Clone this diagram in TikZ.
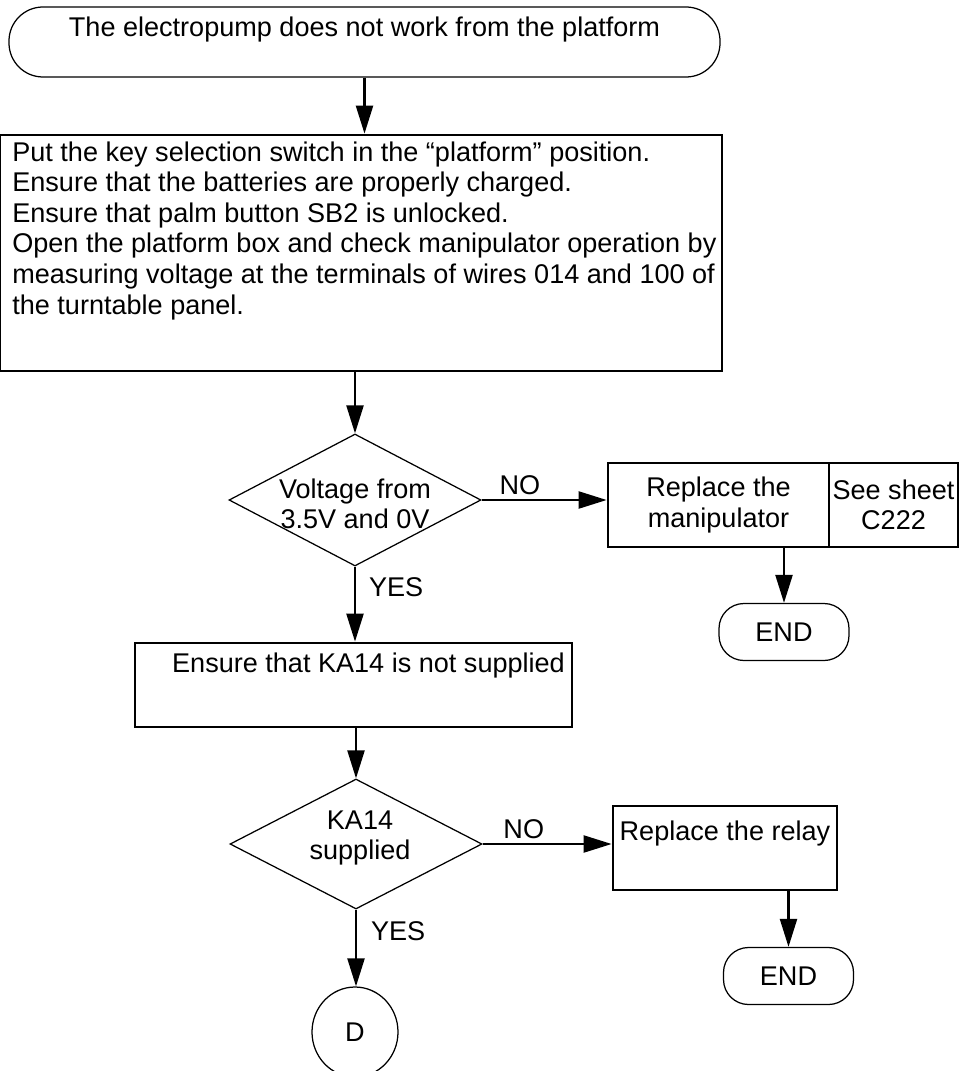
\documentclass[tikz,border=0pt]{standalone}
\usepackage{fontspec}
\setmainfont{Liberation Sans}
\usetikzlibrary{shapes.geometric, arrows.meta, positioning}

\begin{document}
\begin{tikzpicture}[
  x=0.2mm, y=-0.2mm,
  % --- Box styles ---
  basebox/.style={
    align=center, inner sep=0pt,
    font=\fontsize{15.4}{17.4}\selectfont
  },
  termbox/.style={basebox, rectangle, draw, line width=0.25mm,
    rounded corners=6.8mm},
  endbox/.style={termbox, rounded corners=5mm,
    minimum width=26mm, minimum height=11.4mm},
  procbox/.style={basebox, rectangle, draw, line width=0.55mm},
  decbox/.style={basebox, diamond, draw, line width=0.25mm,
    minimum width=50.4mm},
  linkbox/.style={basebox, ellipse, draw, line width=0.25mm,
    minimum width=17.2mm, minimum height=18mm},
  % --- Arrows ---
  flow/.style={-{Triangle[length=5.6mm, width=3.4mm]}, line width=0.45mm},
  % --- Texts ---
  btxt/.style={basebox, align=left},
  lbl/.style={basebox, anchor=base west},
]
\useasboundingbox (0,0) rectangle (959,1071);

% ===================== START =====================
\node[termbox, minimum width=142.2mm, minimum height=14mm] (start) at (364.5,42) {};
\node[basebox, anchor=base] (starttxt) at (364.5,37)
  {The electropump does not work from the platform};

\node[procbox, minimum width=144.4mm, minimum height=47.2mm] (check) at (361,253) {};
% base of a multi-line node = baseline of its last line
\node[btxt, anchor=base west] (checktxt) at (12,314)
  {Put the key selection switch in the ``platform'' position.\\
   Ensure that the batteries are properly charged.\\
   Ensure that palm button SB2 is unlocked.\\
   Open the platform box and check manipulator operation by\\
   measuring voltage at the terminals of wires 014 and 100 of\\
   the turntable panel.};

% ===================== VOLTAGE =====================
\node[decbox, minimum height=26.4mm] (dec1) at (355,500) {};
\node[basebox] (dec1txt) at (355,504) {Voltage from\\3.5V and 0V};

\node[procbox, minimum width=44.2mm, minimum height=16.8mm] (repl1) at (718.5,505)
  {Replace the\\manipulator};
\node[procbox, minimum width=25.8mm, minimum height=16.8mm, right=-0.55mm of repl1] (sheet)
  {See sheet\\C222};

\node[endbox] (end1) at (784,632) {END};

% ===================== KA14 =====================
\node[procbox, minimum width=87.4mm, minimum height=16.8mm] (ensure) at (353.5,685) {};
\node[basebox, anchor=base] (ensuretxt) at (368.5,672)
  {Ensure that KA14 is not supplied};

\node[decbox, minimum height=26mm] (dec2) at (356,844) {};
\node[basebox] (dec2txt) at (360,838) {KA14\\supplied};

\node[procbox, minimum width=44.8mm, minimum height=16.8mm] (relay) at (725,848) {};
\node[basebox, anchor=base] (relaytxt) at (725,840) {Replace the relay};

\node[endbox] (end2) at (788.5,976) {END};

\node[linkbox] (dlink) at (355,1032) {D};

% ================ ARROWS ================
\draw[flow] (start.south) -- (start.south |- check.north);
\draw[flow] (dec1.north |- check.south) -- (dec1.north);

\draw[flow] (dec1.east) --
  node[lbl, pos=0.134, yshift=1.2mm] (no1) {NO}
  (dec1.east -| repl1.west);
\draw[flow] (dec1.south) --
  node[lbl, pos=0.40, xshift=2.6mm] (yes1) {YES}
  (dec1.south |- ensure.north);
\draw[flow] (end1.north |- repl1.south) -- (end1.north);

\draw[flow] (dec2.north |- ensure.south) -- (dec2.north);
\draw[flow] (dec2.east) --
  node[lbl, pos=0.153, yshift=1.2mm] (no2) {NO}
  (dec2.east -| relay.west);
\draw[flow] (dec2.south) --
  node[lbl, pos=0.40, xshift=2.8mm] (yes2) {YES}
  (dec2.south |- dlink.north);
\draw[flow] (end2.north |- relay.south) -- (end2.north);

\end{tikzpicture}
\end{document}
